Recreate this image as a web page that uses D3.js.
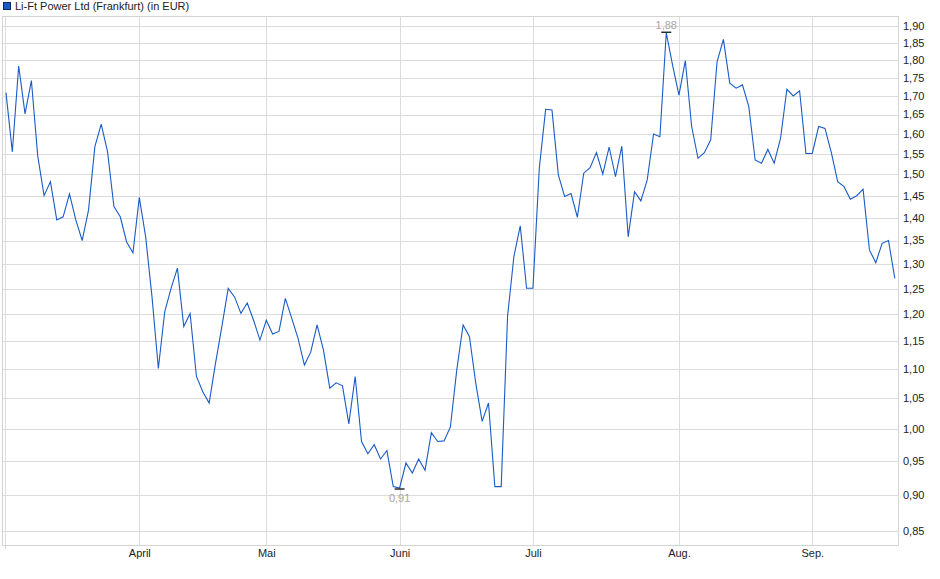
<!DOCTYPE html>
<html><head><meta charset="utf-8">
<script src="https://cdn.jsdelivr.net/npm/d3@7"></script>
<style>
html,body{margin:0;padding:0;background:#fff;}
svg{display:block;font-family:"Liberation Sans",Arial,sans-serif;}
</style></head>
<body>
<svg id="c" width="940" height="579"></svg>
<script>
// Daily closing prices (Frankfurt), one per trading day, Mar–Sep
const prices = [
1.709,1.555,1.783,1.652,1.742,1.545,1.450,1.483,1.395,1.402,
1.454,1.395,1.350,1.417,1.568,1.625,1.555,1.425,1.402,1.347,
1.324,1.446,1.358,1.234,1.101,1.205,1.251,1.292,1.177,1.202,
1.087,1.061,1.042,1.110,1.177,1.251,1.234,1.202,1.222,1.189,
1.152,1.189,1.163,1.168,1.231,1.193,1.155,1.107,1.130,1.180,
1.134,1.067,1.076,1.071,1.008,1.087,0.980,0.961,0.975,0.953,
0.966,0.912,0.910,0.947,0.932,0.953,0.936,0.994,0.980,0.981,
1.003,1.098,1.180,1.158,1.075,1.012,1.042,0.912,0.912,1.196,
1.316,1.382,1.251,1.251,1.515,1.664,1.662,1.499,1.448,1.455,
1.401,1.503,1.516,1.553,1.501,1.567,1.495,1.569,1.358,1.459,
1.438,1.487,1.600,1.593,1.880,1.785,1.702,1.798,1.619,1.539,
1.553,1.585,1.795,1.860,1.735,1.721,1.730,1.671,1.535,1.527,
1.561,1.527,1.589,1.718,1.700,1.714,1.551,1.551,1.619,1.614,
1.553,1.483,1.471,1.442,1.450,1.465,1.330,1.303,1.344,1.350,
1.271
];
// first trading day of each month (index into prices)
const monthIdx = [21, 41, 62, 83, 106, 127];
const monthLabels = ["April", "Mai", "Juni", "Juli", "Aug.", "Sep."];
const yTicks = [0.85,0.90,0.95,1.00,1.05,1.10,1.15,1.20,1.25,1.30,1.35,1.40,1.45,1.50,1.55,1.60,1.65,1.70,1.75,1.80,1.85,1.90];
const title = "Li-Ft Power Ltd (Frankfurt) (in EUR)";

const svg = d3.select("#c");
const L = 3, R = 898, T = 16, B = 545;
const x = d3.scaleLinear().domain([-0.47, prices.length - 0.5]).range([L, R]);
const y = d3.scaleLog().domain([0.85, 1.90]).range([530.8, 26.1]);
const fmt = v => d3.format(".2f")(v).replace(".", ",");

const grid = svg.append("g");
grid.selectAll("line.h").data(yTicks).join("line")
  .attr("x1", L).attr("x2", R)
  .attr("y1", d => Math.round(y(d)) + 0.5).attr("y2", d => Math.round(y(d)) + 0.5)
  .attr("stroke", "#dcdcdc").attr("stroke-width", 1);
grid.selectAll("line.v").data(monthIdx).join("line")
  .attr("x1", d => Math.round(x(d)) + 0.5).attr("x2", d => Math.round(x(d)) + 0.5)
  .attr("y1", T).attr("y2", B)
  .attr("stroke", "#dcdcdc").attr("stroke-width", 1);
grid.append("line").attr("x1", Math.round(x(0)) - 0.5).attr("x2", Math.round(x(0)) - 0.5)
  .attr("y1", T).attr("y2", B + 4).attr("stroke", "#dcdcdc");

svg.append("rect").attr("x", L - 0.5).attr("y", T + 0.5).attr("width", R - L + 1).attr("height", B - T)
  .attr("fill", "none").attr("stroke", "#d4d4d4").attr("stroke-width", 1);

// y labels
svg.append("g").selectAll("text").data(yTicks).join("text")
  .attr("x", R + 5).attr("y", d => y(d)).attr("dy", "0.35em")
  .attr("font-size", 11).attr("fill", "#222").text(fmt);

// x labels
svg.append("g").selectAll("text").data(monthIdx).join("text")
  .attr("x", d => x(d) + 0.5).attr("y", B + 12).attr("text-anchor", "middle")
  .attr("font-size", 11).attr("fill", "#222")
  .text((d, i) => monthLabels[i]);

// price line
const line = d3.line().x((d, i) => x(i)).y(d => y(d));
svg.append("path").datum(prices).attr("d", line)
  .attr("fill", "none").attr("stroke", "#1a5bc6").attr("stroke-width", 1.1)
  .attr("stroke-linejoin", "miter");

// max / min markers
const maxI = d3.maxIndex(prices), minI = d3.minIndex(prices);
const mk = svg.append("g");
mk.append("line").attr("x1", x(maxI) - 5).attr("x2", x(maxI) + 5)
  .attr("y1", y(prices[maxI]) - 0.5).attr("y2", y(prices[maxI]) - 0.5)
  .attr("stroke", "#111").attr("stroke-width", 1.3);
mk.append("text").attr("x", x(maxI)).attr("y", y(prices[maxI]) - 4)
  .attr("text-anchor", "middle").attr("font-size", 11).attr("fill", "#aaa59e").text(fmt(prices[maxI]));
mk.append("line").attr("x1", x(minI) - 5).attr("x2", x(minI) + 5)
  .attr("y1", y(prices[minI]) + 1).attr("y2", y(prices[minI]) + 1)
  .attr("stroke", "#111").attr("stroke-width", 1.3);
mk.append("text").attr("x", x(minI)).attr("y", y(prices[minI]) + 14)
  .attr("text-anchor", "middle").attr("font-size", 11).attr("fill", "#aaa59e").text(fmt(prices[minI]));

// legend
svg.append("rect").attr("x", 3.5).attr("y", 2.5).attr("width", 7).attr("height", 7)
  .attr("fill", "#1a5bc6").attr("stroke", "#0a2a6a").attr("stroke-width", 1);
svg.append("text").attr("x", 15).attr("y", 10).attr("font-size", 11).attr("fill", "#222").text(title);
</script>
</body></html>
